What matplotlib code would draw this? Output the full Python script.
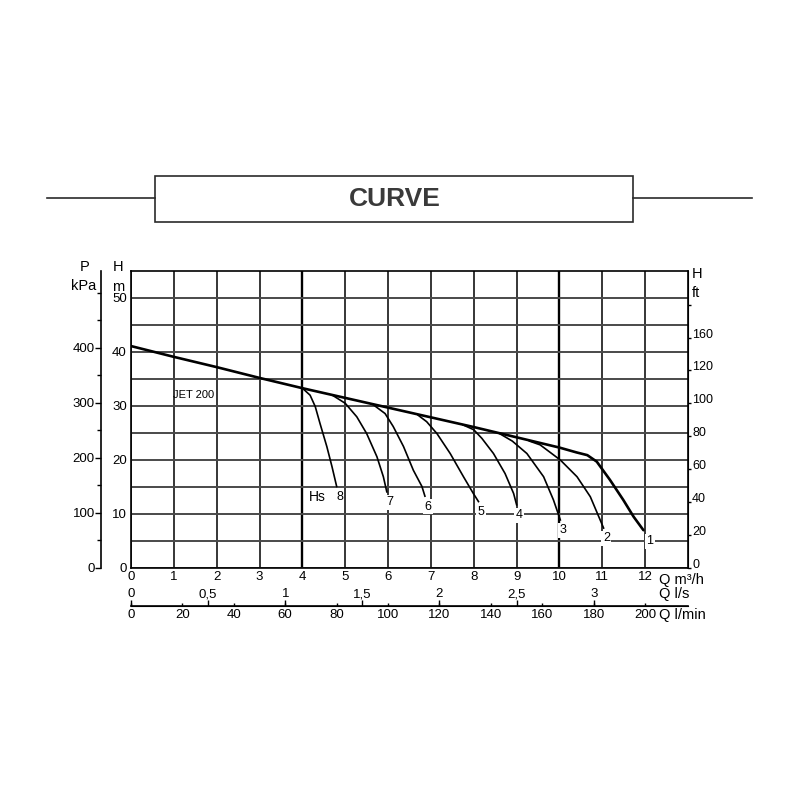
import matplotlib
matplotlib.use('Agg')
import matplotlib.pyplot as plt
from matplotlib import font_manager
from matplotlib.patches import Rectangle
from matplotlib.lines import Line2D

# Fonts: Arial-like everywhere, narrow bold for the banner if it is there.
plt.rcParams['font.family'] = ['Liberation Sans', 'DejaVu Sans']
font_names = {f.name for f in font_manager.fontManager.ttflist}
title_font = 'Liberation Sans Narrow' if 'Liberation Sans Narrow' in font_names else 'Liberation Sans'

# Main H-Q curve of the pump (Q in m3/h, H in m).
main_q = [0, 1, 2, 3, 4, 5, 6, 7, 8, 9, 10, 10.4, 10.65, 10.87, 11.18, 11.49, 11.73, 11.96]
main_h = [41.1, 39.1, 37.2, 35.2, 33.3, 31.5, 29.7, 27.9, 26.1, 24.2, 22.3, 21.4, 20.9,
          19.7, 16.3, 12.6, 9.5, 7.0]

# Suction-lift (Hs) curves branching off the main curve.
hs_names = ['8', '7', '6', '5', '4', '3', '2']
hs_q = [
    [4.0, 4.18, 4.30, 4.41, 4.57, 4.69, 4.80],
    [4.72, 5.0, 5.27, 5.50, 5.74, 5.89, 5.97],
    [5.66, 5.93, 6.12, 6.36, 6.59, 6.79, 6.86],
    [6.7, 6.9, 7.14, 7.45, 7.76, 7.99, 8.11],
    [7.75, 8.0, 8.19, 8.46, 8.73, 8.93, 9.0],
    [8.6, 8.9, 9.24, 9.63, 9.86, 10.02],
    [9.3, 9.55, 10.02, 10.41, 10.72, 10.95, 11.03],
]
hs_h = [
    [33.3, 32.0, 29.9, 26.8, 22.5, 18.8, 15.1],
    [31.9, 30.5, 28.0, 24.9, 20.6, 16.9, 14.1],
    [30.2, 28.6, 26.2, 22.5, 18.1, 15.1, 13.3],
    [28.3, 27.1, 24.9, 21.2, 16.9, 13.8, 12.3],
    [26.5, 25.6, 24.0, 21.2, 17.5, 13.8, 11.7],
    [24.9, 23.5, 21.2, 16.9, 12.6, 8.9],
    [23.5, 22.8, 20.0, 16.9, 13.2, 8.9, 7.4],
]
main_name = '1'

# Axis ticks.
q_ticks = list(range(0, 13))
h_ticks = list(range(0, 55, 5))
p_ticks = [0, 100, 200, 300, 400]
p_minor = [50, 150, 250, 350, 450, 500]
ft_ticks = [0, 20, 40, 60, 80, 100, 120, 140, 160]
ft_labels = ['0', '20', '40', '60', '80', '100', '120', '160', '']
ls_ticks = [0, 0.5, 1, 1.5, 2, 2.5, 3]
ls_labels = ['0', '0,5', '1', '1,5', '2', '2,5', '3']
lmin_ticks = list(range(0, 220, 20))

# Figure.
fig = plt.figure(figsize=(8, 8), dpi=100)
W, H = 800.0, 800.0

# Banner "CURVE" with its side rules.
fig.patches.append(Rectangle((155 / W, 1 - 222 / H), 478 / W, 46 / H, transform=fig.transFigure,
                             facecolor='white', edgecolor='#2b2b2b', linewidth=1.2))
for x0, x1 in [(47, 155), (633, 752)]:
    fig.lines.append(Line2D([x0 / W, x1 / W], [1 - 198 / H, 1 - 198 / H],
                            transform=fig.transFigure, color='#2b2b2b', linewidth=1.2))
fig.text(395 / W, 1 - 199 / H, 'CURVE', ha='center', va='center', fontsize=19,
         fontweight='bold', family=title_font, color='#3a3a3a')

# Main axes.
ax = fig.add_axes([131 / W, 1 - 568 / H, 557 / W, 297 / H])
ax.set_xlim(0, 13)
ax.set_ylim(0, 55)
for s in ax.spines.values():
    s.set_linewidth(1.2)

ax.set_xticks(q_ticks, [str(q) for q in q_ticks])
ax.set_yticks(h_ticks, [str(h) if h % 10 == 0 else '' for h in h_ticks])
ax.tick_params(axis='x', length=0, pad=2, labelsize=9.5)
ax.tick_params(axis='y', length=0, pad=3, labelsize=9.5)
ax.grid(True, axis='x', color='black', linewidth=1.1)
ax.grid(True, axis='y', color='#4a4a4a', linewidth=1.4)
gx = ax.get_xgridlines()
gx[4].set_linewidth(1.7)
gx[10].set_linewidth(1.7)
ax.set_axisbelow(True)

# Curves.
ax.plot(main_q, main_h, color='black', linewidth=1.9, solid_capstyle='round')
for name, q, h in zip(hs_names, hs_q, hs_h):
    ax.plot(q, h, color='black', linewidth=1.2)
    ax.annotate(name, (q[-1], h[-1]), xytext=(2, -7.5), textcoords='offset points',
                ha='center', va='center', fontsize=9,
                bbox=dict(boxstyle='square,pad=0.12', facecolor='white', edgecolor='none'))
ax.annotate(main_name, (main_q[-1], main_h[-1]), xytext=(4.5, -8), textcoords='offset points',
            ha='center', va='center', fontsize=9,
            bbox=dict(boxstyle='square,pad=0.12', facecolor='white', edgecolor='none'))
ax.annotate('Hs', (hs_q[0][-1], hs_h[0][-1]), xytext=(-14, -7.5), textcoords='offset points',
            ha='center', va='center', fontsize=10)
ax.text(1.45, 32.0, 'JET 200', ha='center', va='center', fontsize=8)

# Pressure axis (kPa) on the far left.
sec_p = ax.secondary_yaxis(-30 / 557, functions=(lambda h: h * 9.81, lambda p: p / 9.81))
sec_p.set_yticks(p_ticks)
sec_p.set_yticks(p_minor, minor=True)
sec_p.tick_params(which='major', direction='out', length=4, width=1.0, pad=0.5, labelsize=9.5)
sec_p.tick_params(which='minor', direction='out', length=3, width=1.0)
sec_p.spines['left'].set_linewidth(1.2)

# Head in feet on the right.
sec_ft = ax.secondary_yaxis('right', functions=(lambda h: h / 0.3048, lambda f: f * 0.3048))
sec_ft.set_yticks(ft_ticks, ft_labels)
sec_ft.tick_params(direction='out', length=2.5, width=1.0, pad=0.5, labelsize=9)
plt.setp(sec_ft.get_yticklabels(), va='baseline')

# Flow in l/min and l/s below the chart.
loc = -38 / 297
sec_lmin = ax.secondary_xaxis(loc, functions=(lambda q: q * 1000 / 60, lambda l: l * 60 / 1000))
sec_lmin.set_xticks(lmin_ticks)
sec_lmin.tick_params(direction='in', length=2.5, width=1.0, pad=2, labelsize=9.5)
sec_lmin.spines['bottom'].set_linewidth(1.2)

sec_ls = ax.secondary_xaxis(loc, functions=(lambda q: q / 3.6, lambda l: l * 3.6))
sec_ls.set_alignment('top')
sec_ls.set_xticks(ls_ticks, ls_labels)
sec_ls.tick_params(direction='out', length=4, width=1.0, pad=0.3, labelsize=9.5)

# Unit labels.
fig.text(85 / W, 1 - 267 / H, 'P', ha='center', va='center', fontsize=10.5)
fig.text(84 / W, 1 - 286 / H, 'kPa', ha='center', va='center', fontsize=10.5)
fig.text(118 / W, 1 - 267 / H, 'H', ha='center', va='center', fontsize=10.5)
fig.text(118 / W, 1 - 287 / H, 'm', ha='center', va='center', fontsize=10.5)
fig.text(692 / W, 1 - 274 / H, 'H', ha='left', va='center', fontsize=10.5)
fig.text(692 / W, 1 - 293 / H, 'ft', ha='left', va='center', fontsize=10.5)
fig.text(659 / W, 1 - 580 / H, 'Q m³/h', ha='left', va='center', fontsize=10.5)
fig.text(659 / W, 1 - 594 / H, 'Q l/s', ha='left', va='center', fontsize=10.5)
fig.text(659 / W, 1 - 615 / H, 'Q l/min', ha='left', va='center', fontsize=10.5)

fig.savefig('out.png', dpi=100, facecolor='white')
